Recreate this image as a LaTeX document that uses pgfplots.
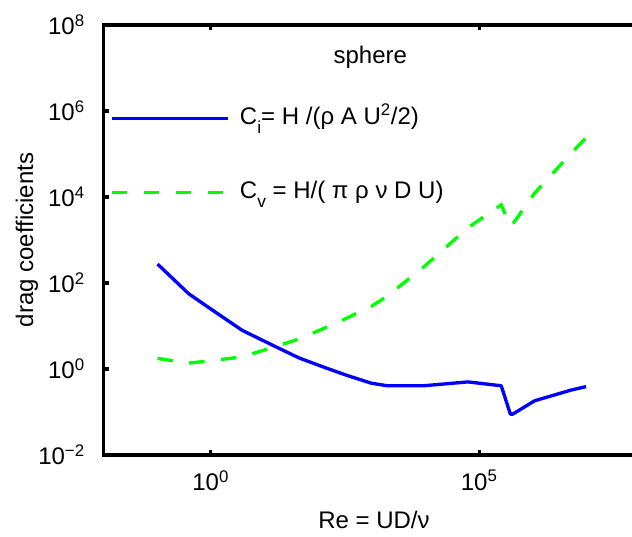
\documentclass[border=0pt]{standalone}
\usepackage{fontspec}
\setmainfont{Liberation Sans}
\usepackage{pgfplots}
\pgfplotsset{compat=1.18}
\newcommand{\sub}[1]{\raisebox{-0.38em}{\fontsize{13}{13}\selectfont #1}}
\definecolor{mblue}{RGB}{0,0,255}
\definecolor{mgreen}{RGB}{0,255,0}
\begin{document}
\begin{tikzpicture}
\begin{axis}[
  scale only axis, width=396.5pt, height=322.5pt,
  xmode=log, ymode=log,
  xmin=0.01, xmax=7.0e7, ymin=1e-2, ymax=1e8,
  axis x line=box, axis y line=left,
  axis line style={-, line width=2.4pt, line cap=rect},
  tick align=inside,
  xtick pos=both, xticklabel pos=lower,
  major tick length=4pt,
  every tick/.style={black, line width=2.4pt},
  xtick={1,1e5}, xticklabels={10\textsuperscript{0},10\textsuperscript{5}},
  ytick={1e-2,1,1e2,1e4,1e6,1e8},
  yticklabels={10\textsuperscript{−2},10\textsuperscript{0},10\textsuperscript{2},10\textsuperscript{4},10\textsuperscript{6},10\textsuperscript{8}},
  minor xtick={}, minor ytick={},
  font=\fontsize{18}{20}\selectfont,
  xticklabel style={font=\fontsize{18}{20}\selectfont, inner sep=0pt, anchor=north, yshift=-11.25pt},
  yticklabel style={font=\fontsize{18}{20}\selectfont, inner sep=0pt, anchor=east, xshift=-13.7pt},
  xlabel={Re = UD/ν},
  xlabel style={at={(axis description cs:0.512,-0.170)}, anchor=base, inner sep=0pt},
  ylabel={drag coefficients},
  ylabel style={at={(axis description cs:-0.133,0.5)}, anchor=base, inner sep=0pt},
  legend style={draw=none, fill=none, at={(axis description cs:0.0121,0.813)}, anchor=north west,
    font=\fontsize{18}{20}\selectfont, inner sep=0pt, row sep=36.8pt,
    nodes={inner sep=0pt, text height=14pt, text depth=5pt},
    /tikz/every odd column/.style={column sep=8pt}},
  legend cell align=left,
  legend image code/.code={\draw[#1] (0pt,0pt) -- (87pt,0pt);},
  clip=false,
]
\addplot[mblue, line width=2.5pt, line join=round] coordinates {
(0.1023,275.4) (0.389,56.23) (1.047,23.99) (3.846,7.943) (15.49,3.388)
(43.65,1.820) (123.0,1.122) (346.7,0.7079) (977.2,0.4677) (1950,0.4074)
(9120,0.4074) (61660,0.5012) (257000,0.4074) (380200,0.0891) (420000,0.0891)
(1.072e6,0.1820) (5.13e6,0.3236) (9.77e6,0.3890)
};
\addlegendentry{C\sub{i}= H /(ρ A U\textsuperscript{2}/2)}
\addplot[mgreen, line width=2.5pt, dash pattern=on 11.6pt off 12.4pt] coordinates {
(0.1023,1.762) (0.389,1.368) (1.047,1.570) (3.846,1.910) (15.49,3.281)
(43.65,4.966) (123.0,8.630) (346.7,15.35) (977.2,28.58) (1950,49.66)
(9120,232.3) (61660,1932) (257000,6546) (380200,2118) (420000,2340)
(1.072e6,12190) (5.13e6,103750) (9.77e6,237700)
};
\addlegendentry{C\sub{v} = H/( π ρ ν D U)}
\node[anchor=base, inner sep=0pt] at (axis description cs:0.505,0.911) {sphere};
\coordinate (bl) at (rel axis cs:0,0);
\coordinate (tr) at (rel axis cs:1,1);
\end{axis}
\pgfresetboundingbox
\path[use as bounding box] ([shift={(-77.5pt,-60.75pt)}]bl) rectangle ([shift={(0pt,18.75pt)}]tr);
\end{tikzpicture}
\end{document}
